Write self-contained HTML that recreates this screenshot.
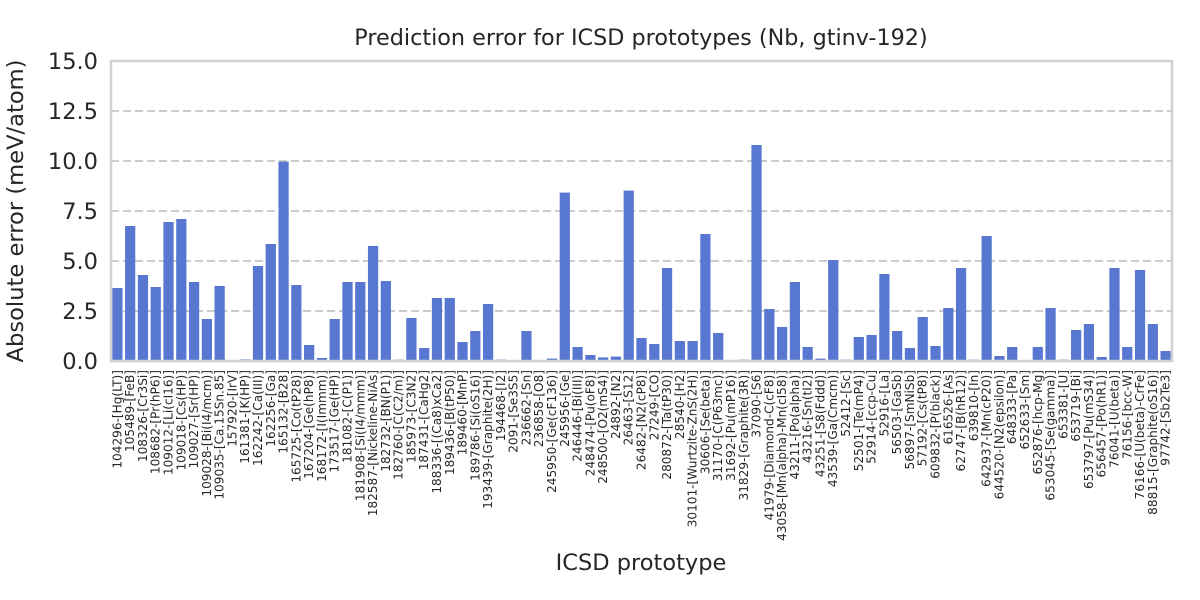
<!DOCTYPE html>
<html><head><meta charset="utf-8"><style>
body{margin:0;background:#fff;}
svg{display:block;font-family:"DejaVu Sans","Liberation Sans",sans-serif;}
</style></head><body>
<svg id="chart" width="1200" height="600">
<text x="641" y="45" text-anchor="middle" font-size="22.3" fill="#262626">Prediction error for ICSD prototypes (Nb, gtinv-192)</text>
<text transform="translate(23,211) rotate(-90)" text-anchor="middle" font-size="22.6" fill="#262626">Absolute error (meV/atom)</text>
<text x="641" y="570" text-anchor="middle" font-size="22.5" fill="#262626">ICSD prototype</text>
<g id="grid"></g><g id="bars"></g><g id="yticks"></g><g id="xticks"></g>
<rect x="111" y="61" width="1061" height="300" fill="none" stroke="#d0d0d0" stroke-width="2.5"/>
</svg>
<script>
const categories=["104296-[Hg(LT)]","105489-[FeB]","108326-[Cr3Si]","108682-[Pr(hP6)]","109012-[Li(cI16)]","109018-[Cs(HP)]","109027-[Sr(HP)]","109028-[Bi(I4/mcm)]","109035-[Ca.15Sn.85]","157920-[IrV]","161381-[K(HP)]","162242-[Ca(III)]","162256-[Ga]","165132-[B28]","165725-[Co(tP28)]","167204-[Ge(hP8)]","168172-[I(Immm)]","173517-[Ge(HP)]","181082-[C(P1)]","181908-[Si(I4/mmm)]","182587-[Nickeline-NiAs]","182732-[BN(P1)]","182760-[C(C2/m)]","185973-[C3N2]","187431-[CaHg2]","188336-[(Ca8)xCa2]","189436-[B(tP50)]","189460-[MnP]","189786-[Si(oS16)]","193439-[Graphite(2H)]","194468-[I2]","2091-[Se3S5]","236662-[Sn]","236858-[O8]","245950-[Ge(cF136)]","245956-[Ge]","246446-[Bi(III)]","248474-[Pu(oF8)]","248500-[O2(mS4)]","24892-[N2]","26463-[S12]","26482-[N2(cP8)]","27249-[CO]","280872-[Ta(tP30)]","28540-[H2]","30101-[Wurtzite-ZnS(2H)]","30606-[Se(beta)]","31170-[C(P63mc)]","31692-[Pu(mP16)]","31829-[Graphite(3R)]","37090-[S6]","41979-[Diamond-C(cF8)]","43058-[Mn(alpha)-Mn(cI58)]","43211-[Po(alpha)]","43216-[Sn(tI2)]","43251-[S8(Fddd)]","43539-[Ga(Cmcm)]","52412-[Sc]","52501-[Te(mP4)]","52914-[ccp-Cu]","52916-[La]","56503-[GaSb]","56897-[SmNiSb]","57192-[Cs(tP8)]","609832-[P(black)]","616526-[As]","62747-[B(hR12)]","639810-[In]","642937-[Mn(cP20)]","644520-[N2(epsilon)]","648333-[Pa]","652633-[Sm]","652876-[hcp-Mg]","653045-[Se(gamma)]","653381-[U]","653719-[Bi]","653797-[Pu(mS34)]","656457-[Po(hR1)]","76041-[U(beta)]","76156-[bcc-W]","76166-[U(beta)-CrFe]","88815-[Graphite(oS16)]","97742-[Sb2Te3]"];
const errors=[3.65,6.75,4.3,3.7,6.95,7.1,3.95,2.1,3.75,0,0.08,4.75,5.85,9.97,3.8,0.8,0.15,2.1,3.95,3.95,5.75,4.0,0.07,2.15,0.65,3.15,3.15,0.95,1.5,2.85,0.07,0.02,1.5,0.02,0.12,8.42,0.7,0.3,0.18,0.22,8.52,1.15,0.85,4.65,1.0,1.0,6.35,1.4,0.02,0.07,10.8,2.6,1.7,3.95,0.7,0.12,5.05,0.07,1.2,1.3,4.35,1.5,0.65,2.2,0.75,2.65,4.65,0.07,6.25,0.25,0.7,0.02,0.7,2.65,0.07,1.55,1.85,0.2,4.65,0.7,4.55,1.85,0.5];
const yTicks=[0,2.5,5,7.5,10,12.5,15];
const yTickLabels=["0.0","2.5","5.0","7.5","10.0","12.5","15.0"];
const NS="http://www.w3.org/2000/svg";
const X0=111,X1=1172,Y0=361,Y1=61,YMAX=15;
const step=(X1-X0)/categories.length;
const xc=i=>X0+step*(i+0.5);
const ys=v=>Y0-(v/YMAX)*(Y0-Y1);
const mk=(t,a,p)=>{const e=document.createElementNS(NS,t);for(const k in a)e.setAttribute(k,a[k]);p.appendChild(e);return e;};
const grid=document.getElementById('grid'),bars=document.getElementById('bars'),yt=document.getElementById('yticks'),xt=document.getElementById('xticks');
yTicks.forEach((v,i)=>{
  if(v>0&&v<YMAX){const l=mk('line',{x1:X0,x2:X1,y1:ys(v),y2:ys(v),stroke:'#cccccc','stroke-width':2,'stroke-dasharray':'8,4'},grid);
  
  }
  const t=mk('text',{x:98,y:ys(v)+8,'text-anchor':'end','font-size':22.5,fill:'#262626'},yt);
  t.textContent=yTickLabels[i];
  
  
});
categories.forEach((c,i)=>{
  const w=step*0.8,y=ys(errors[i]);
  const r=mk('rect',{x:xc(i)-w/2,y:y,width:w,height:Y0-y,fill:'#5877d1'},bars);
  
  
  const t=mk('text',{transform:`translate(${xc(i)+4},370) rotate(-90)`,'text-anchor':'end','font-size':12.1,fill:'#262626'},xt);
  t.textContent=c;
  
  
});
</script>
</body></html>
